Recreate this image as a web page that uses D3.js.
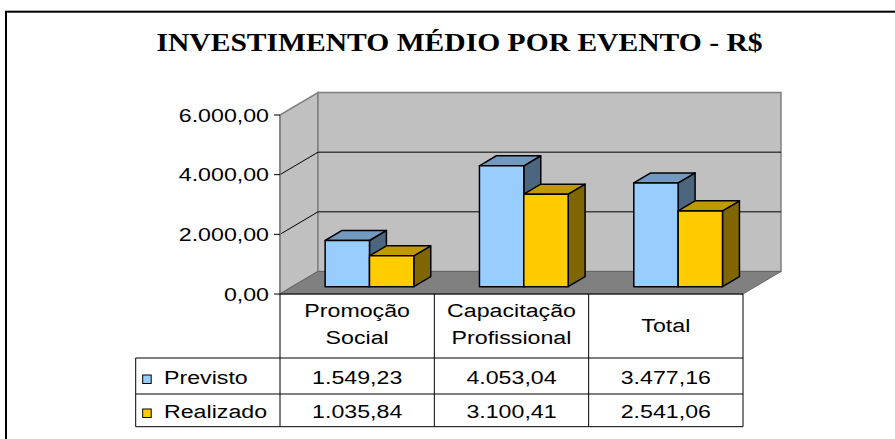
<!DOCTYPE html>
<html><head><meta charset="utf-8">
<script src="https://cdn.jsdelivr.net/npm/d3@7"></script>
<style>html,body{margin:0;padding:0;background:#fff;}svg{display:block;}</style>
</head><body>
<svg id="c" width="895" height="439"></svg>
<script>
const title = "INVESTIMENTO MÉDIO POR EVENTO - R$";
const categories = [["Promoção","Social"],["Capacitação","Profissional"],["Total"]];
const seriesNames = ["Previsto","Realizado"];
const previsto = [1549.23, 4053.04, 3477.16];
const realizado = [1035.84, 3100.41, 2541.06];
const yTicks = [0, 2000, 4000, 6000];
const frontColors = ["#99ccff","#ffcc00"];
const topColors = ["#7399bf","#bf9900"];
const sideColors = ["#4c6680","#806600"];

const values = [previsto, realizado];
const catKeys = categories.map(c => c.join(" "));
const loc = d3.formatLocale({decimal:",", thousands:".", grouping:[3], currency:["R$",""]});
const fmt = loc.format(",.2f");

const svg = d3.select("#c");
const SX = 1.22, FS = 19;
const font = "'Liberation Sans', Arial, sans-serif";

const x = d3.scaleBand().domain(catKeys).range([280, 743]);
const y = d3.scaleLinear().domain([0, 6000]).range([294, 115]);
const x1 = d3.scaleBand().domain(seriesNames).range([0, x.bandwidth()]).paddingInner(0).paddingOuter(0.74);
const DX = 38, DY = 22.5;
const P = (xx, yy, d) => [xx + DX * d, yy - DY * d];
const poly = pts => "M" + pts.map(p => p.join(",")).join("L") + "Z";

function txt(g, s, xx, yy, anchor, opts = {}) {
  return g.append("text")
    .attr("transform", `translate(${xx},${yy}) scale(${opts.sx || SX},1)`)
    .attr("text-anchor", anchor)
    .attr("font-family", opts.family || font)
    .attr("font-size", opts.size || FS)
    .attr("font-weight", opts.weight || "normal")
    .attr("fill", "#000")
    .text(s);
}

// frame
svg.append("rect").attr("x", 6).attr("y", 11.7).attr("width", 1000).attr("height", 1000)
  .attr("fill", "none").attr("stroke", "#000").attr("stroke-width", 2);

// title
txt(svg, title, 459.5, 50.5, "middle", {sx: 1.16, size: 25.5, weight: "bold", family: "'Liberation Serif','Times New Roman',serif"});

const x0 = x.range()[0], xE = x.range()[1];
const y0 = y(0), yT = y(6000);

// side wall
svg.append("path").attr("d", poly([P(x0, y0, 0), P(x0, yT, 0), P(x0, yT, 1), P(x0, y0, 1)]))
  .attr("fill", "#c0c0c0").attr("stroke", "#808080").attr("stroke-width", 1.5);
// back wall
svg.append("path").attr("d", poly([P(x0, y0, 1), P(x0, yT, 1), P(xE, yT, 1), P(xE, y0, 1)]))
  .attr("fill", "#c0c0c0").attr("stroke", "#808080").attr("stroke-width", 1.5);
// floor
svg.append("path").attr("d", poly([P(x0, y0, 0), P(xE, y0, 0), P(xE, y0, 1), P(x0, y0, 1)]))
  .attr("fill", "#808080").attr("stroke", "#666").attr("stroke-width", 1);

// gridlines
yTicks.filter(v => v > 0 && v < 6000).forEach(v => {
  svg.append("path").attr("d", "M" + P(x0, y(v), 0) + "L" + P(x0, y(v), 1) + "L" + P(xE, y(v), 1))
    .attr("fill", "none").attr("stroke", "#000").attr("stroke-width", 1);
});

// axis
svg.append("line").attr("x1", x0).attr("x2", x0).attr("y1", yT).attr("y2", y0)
  .attr("stroke", "#808080").attr("stroke-width", 1.5);
yTicks.forEach(v => {
  svg.append("line").attr("x1", x0 - 6).attr("x2", x0).attr("y1", y(v)).attr("y2", y(v))
    .attr("stroke", "#000").attr("stroke-width", 1);
  txt(svg, fmt(v), 269, y(v) + 6.8, "end");
});

// bars
const dF = 0.324, dB = 0.77;
catKeys.forEach((c, i) => {
  seriesNames.forEach((s, j) => {
    const xl = x(c) + x1(s), xr = xl + x1.bandwidth();
    const yt = y(values[j][i]), yb = y(0);
    const g = svg.append("g").attr("stroke", "#000").attr("stroke-width", 1.5).attr("stroke-linejoin", "round");
    g.append("path").attr("d", poly([P(xr, yb, dF), P(xr, yt, dF), P(xr, yt, dB), P(xr, yb, dB)])).attr("fill", sideColors[j]);
    g.append("path").attr("d", poly([P(xl, yt, dF), P(xr, yt, dF), P(xr, yt, dB), P(xl, yt, dB)])).attr("fill", topColors[j]);
    g.append("path").attr("d", poly([P(xl, yb, dF), P(xr, yb, dF), P(xr, yt, dF), P(xl, yt, dF)])).attr("fill", frontColors[j]);
  });
});

// data table
const tHead = 294, tR1 = 358, tR2 = 394, tR3 = 426.7, tLeft = 135.7;
const tg = svg.append("g").attr("stroke", "#000").attr("stroke-width", 1);
tg.append("line").attr("x1", x0).attr("x2", xE).attr("y1", tHead).attr("y2", tHead);
[tR1, tR2, tR3].forEach(yy => tg.append("line").attr("x1", tLeft).attr("x2", xE).attr("y1", yy).attr("y2", yy));
tg.append("line").attr("x1", tLeft).attr("x2", tLeft).attr("y1", tR1).attr("y2", tR3);
catKeys.forEach(c => {
  tg.append("line").attr("x1", x(c)).attr("x2", x(c)).attr("y1", tHead).attr("y2", tR3);
});
tg.append("line").attr("x1", xE).attr("x2", xE).attr("y1", tHead).attr("y2", tR3);

// header text
categories.forEach((lines, i) => {
  const cx = x(catKeys[i]) + x.bandwidth() / 2;
  if (lines.length === 2) {
    txt(svg, lines[0], cx, 317, "middle");
    txt(svg, lines[1], cx, 344, "middle");
  } else {
    txt(svg, lines[0], cx, 332, "middle");
  }
});

// rows
const rowBase = [383.5, 417.5];
seriesNames.forEach((s, j) => {
  svg.append("rect").attr("x", 142.7).attr("y", rowBase[j] - 8.5).attr("width", 8.5).attr("height", 8.5)
    .attr("fill", frontColors[j]).attr("stroke", "#000").attr("stroke-width", 1);
  txt(svg, s, 164, rowBase[j], "start");
  catKeys.forEach((c, i) => {
    txt(svg, fmt(values[j][i]), x(c) + x.bandwidth() / 2, rowBase[j], "middle");
  });
});
</script>
</body></html>
